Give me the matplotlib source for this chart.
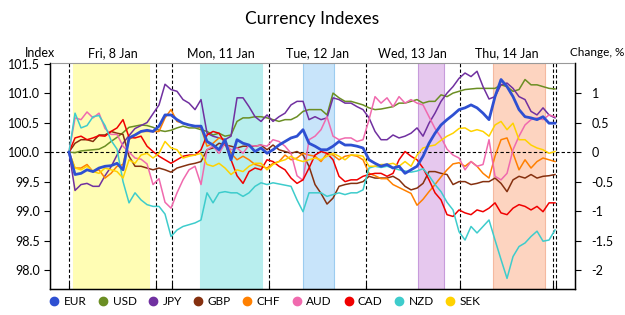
import numpy as np
import matplotlib
matplotlib.use("Agg")
import matplotlib.pyplot as plt
from matplotlib.lines import Line2D
import matplotlib.transforms as mtransforms

plt.rcParams['font.family'] = ['Lato', 'DejaVu Sans']

# index values, one sample per step along the time axis
eur = [100.00, 99.62, 99.64, 99.70, 99.67, 99.73, 99.76, 99.77, 99.81, 99.70, 100.24, 100.29, 100.35, 100.37, 100.35,
       100.44, 100.63, 100.63, 100.55, 100.49, 100.46, 100.44, 100.44, 100.18, 100.12, 100.04, 100.21, 99.87, 100.21, 100.15, 100.12, 100.01, 100.07,
       99.98, 100.04, 100.12, 100.18, 100.24, 100.27, 100.38, 100.15, 100.10, 100.04, 100.04, 100.10, 100.18, 100.12, 100.12, 100.10, 100.07,
       99.87, 99.81, 99.76, 99.79, 99.73, 99.76, 99.64, 99.70, 99.76, 99.93, 100.15, 100.32, 100.46, 100.55, 100.63, 100.72,
       100.75, 100.80, 100.75, 100.66, 100.55, 100.94, 101.23, 101.11, 100.94, 100.72, 100.60, 100.58, 100.55, 100.60, 100.49, 100.49]
usd = [100.00, 99.99, 100.02, 100.03, 100.04, 100.05, 100.10, 100.18, 100.25, 100.33, 100.42, 100.44, 100.46, 100.45, 100.42,
       100.37, 100.35, 100.37, 100.41, 100.44, 100.41, 100.41, 100.38, 100.35, 100.29, 100.32, 100.27, 100.29, 100.52, 100.58, 100.58, 100.60, 100.60,
       100.58, 100.55, 100.52, 100.55, 100.55, 100.60, 100.69, 100.72, 100.72, 100.72, 100.63, 101.00, 100.92, 100.86, 100.86, 100.83, 100.80,
       100.75, 100.72, 100.73, 100.75, 100.77, 100.83, 100.83, 100.86, 100.89, 100.83, 100.86, 100.86, 100.97, 100.94, 101.00, 101.03,
       101.06, 101.07, 101.08, 101.08, 101.08, 101.08, 101.14, 101.11, 101.03, 101.06, 101.23, 101.14, 101.14, 101.11, 101.08, 101.07]
jpy = [100.00, 99.35, 99.45, 99.47, 99.42, 99.42, 99.60, 99.75, 99.95, 100.15, 100.28, 100.40, 100.45, 100.50, 100.65,
       100.80, 101.15, 101.06, 101.03, 100.89, 100.83, 100.72, 100.89, 100.32, 100.27, 100.24, 100.21, 100.27, 100.92, 100.92, 100.77, 100.60, 100.52,
       100.63, 100.52, 100.60, 100.66, 100.80, 100.86, 100.86, 100.55, 100.60, 100.55, 100.58, 100.92, 100.89, 100.83, 100.83, 100.77, 100.72,
       100.58, 100.35, 100.21, 100.21, 100.29, 100.24, 100.27, 100.32, 100.41, 100.27, 100.49, 100.66, 100.86, 101.00, 101.11, 101.25,
       101.34, 101.28, 101.37, 101.11, 100.90, 100.94, 101.14, 101.17, 101.08, 100.94, 100.89, 100.69, 100.63, 100.75, 100.63, 100.58]
gbp = [100.00, 100.15, 100.21, 100.21, 100.18, 100.29, 100.29, 100.35, 100.32, 100.30, 99.93, 99.76, 99.76, 99.73, 99.70,
       99.73, 99.70, 99.66, 99.73, 99.76, 99.79, 99.81, 99.84, 100.04, 100.07, 100.15, 100.12, 100.10, 100.07, 100.10, 100.10, 100.10, 100.12,
       100.04, 100.12, 100.04, 100.01, 99.98, 100.01, 99.95, 99.76, 99.45, 99.30, 99.12, 99.22, 99.42, 99.45, 99.47, 99.47, 99.50,
       99.59, 99.56, 99.56, 99.56, 99.59, 99.53, 99.42, 99.36, 99.39, 99.47, 99.67, 99.67, 99.64, 99.62, 99.45, 99.50,
       99.50, 99.45, 99.47, 99.50, 99.50, 99.56, 99.47, 99.33, 99.53, 99.59, 99.56, 99.62, 99.56, 99.59, 99.60, 99.62]
chf = [100.00, 99.73, 99.73, 99.79, 99.67, 99.70, 99.56, 99.64, 99.76, 99.79, 100.21, 100.29, 100.35, 100.35, 100.35,
       100.35, 100.58, 100.72, 100.52, 100.49, 100.46, 100.44, 100.41, 100.10, 100.15, 100.24, 100.21, 99.98, 99.87, 99.93, 99.87, 99.79, 99.76,
       99.73, 99.81, 99.84, 99.95, 99.87, 99.90, 99.98, 99.95, 99.93, 99.84, 99.98, 99.95, 99.87, 99.93, 99.95, 99.93, 99.87,
       99.64, 99.60, 99.55, 99.55, 99.45, 99.40, 99.35, 99.30, 99.10, 99.20, 99.33, 99.45, 99.58, 99.70, 99.80, 99.82,
       99.76, 99.84, 99.76, 99.64, 99.56, 99.93, 100.21, 100.24, 99.98, 99.70, 99.87, 99.73, 99.84, 99.90, 99.87, 99.84]
aud = [100.00, 100.58, 100.55, 100.68, 100.58, 100.66, 100.40, 100.30, 100.30, 100.10, 100.00, 99.90, 99.88, 99.80, 99.45,
       99.55, 99.15, 99.05, 99.31, 99.53, 99.70, 99.76, 99.45, 100.04, 100.10, 99.98, 100.15, 100.04, 100.07, 99.98, 100.12, 100.10, 100.12,
       100.10, 100.21, 100.18, 100.10, 99.98, 99.60, 99.52, 100.21, 100.27, 100.38, 100.60, 100.27, 100.21, 100.24, 100.24, 100.18, 100.21,
       100.55, 100.94, 100.83, 100.92, 100.77, 100.94, 100.83, 100.89, 100.83, 100.80, 100.60, 100.40, 100.25, 100.05, 99.95, 99.90,
       99.70, 99.84, 99.76, 99.79, 100.21, 99.59, 99.53, 99.64, 100.04, 100.27, 100.46, 100.55, 100.58, 100.55, 100.63, 100.60]
cad = [100.00, 100.24, 100.27, 100.21, 100.24, 100.28, 100.27, 100.35, 100.41, 100.55, 100.25, 100.24, 100.27, 100.10, 100.01,
       99.93, 99.87, 99.81, 99.87, 99.93, 99.95, 99.95, 100.04, 100.29, 100.35, 100.32, 100.15, 99.87, 99.60, 99.47, 99.67, 99.73, 99.70,
       99.87, 99.84, 99.76, 99.70, 99.56, 99.47, 99.53, 99.73, 99.95, 100.01, 99.98, 99.87, 99.59, 99.50, 99.53, 99.53, 99.59,
       99.62, 99.64, 99.64, 99.59, 99.64, 99.87, 100.01, 99.93, 99.87, 99.73, 99.53, 99.31, 99.19, 98.94, 98.91, 99.02,
       98.97, 98.94, 99.02, 98.99, 99.05, 99.14, 98.97, 98.94, 99.05, 99.11, 99.08, 99.02, 99.08, 98.99, 99.14, 99.14]
nzd = [100.00, 100.66, 100.41, 100.45, 100.60, 100.62, 100.45, 100.20, 100.05, 99.50, 99.14, 99.31, 99.19, 99.11, 99.08,
       99.08, 98.95, 98.57, 98.68, 98.74, 98.77, 98.80, 98.85, 99.31, 99.14, 99.31, 99.33, 99.31, 99.31, 99.25, 99.31, 99.42, 99.48,
       99.45, 99.48, 99.46, 99.44, 99.42, 99.19, 98.99, 99.31, 99.31, 99.31, 99.25, 99.28, 99.31, 99.28, 99.31, 99.31, 99.36,
       99.73, 99.76, 99.74, 99.76, 99.73, 99.70, 99.68, 99.66, 99.68, 99.72, 99.60, 99.45, 99.33, 99.15, 99.02, 98.65,
       98.51, 98.74, 98.63, 98.74, 98.85, 98.51, 98.18, 97.86, 98.23, 98.40, 98.46, 98.57, 98.66, 98.49, 98.51, 98.68]
sek = [100.00, 99.73, 99.70, 99.76, 99.67, 99.64, 99.73, 99.70, 99.67, 99.56, 99.87, 99.81, 99.95, 99.98, 99.90,
       99.98, 100.18, 100.07, 100.04, 99.90, 99.93, 99.95, 99.98, 99.79, 99.76, 99.81, 99.73, 99.62, 99.70, 99.67, 99.76, 99.81, 99.81,
       99.70, 99.79, 99.84, 99.87, 99.93, 99.87, 99.84, 99.87, 99.90, 99.87, 99.93, 99.98, 99.93, 99.87, 99.95, 99.95, 99.93,
       99.76, 99.76, 99.79, 99.79, 99.81, 99.76, 99.84, 99.76, 99.95, 100.07, 100.10, 100.12, 100.20, 100.27, 100.32, 100.40,
       100.41, 100.35, 100.38, 100.35, 100.27, 100.46, 100.52, 100.38, 100.49, 100.21, 100.21, 100.12, 100.07, 100.04, 99.98, 100.01]

names = ['EUR', 'USD', 'JPY', 'GBP', 'CHF', 'AUD', 'CAD', 'NZD', 'SEK']
colors = ['#2E50D2', '#6B8E23', '#7030A0', '#85300F', '#FF8000', '#F06AAE', '#F00000', '#3ECCCC', '#FFD200']

# day boundaries and session bands, in sample steps
day_edges = [0, 14.5, 17.17, 33.33, 49.5, 65.17, 80.67, 81.17]
day_labels = ['Fri, 8 Jan', 'Mon, 11 Jan', 'Tue, 12 Jan', 'Wed, 13 Jan', 'Thu, 14 Jan']
day_label_pos = [7.25, 25.25, 41.4, 57.3, 72.9]
bands = [(0.67, 13.33), (21.83, 32.17), (39.0, 44.17), (58.17, 62.5), (70.67, 79.33)]
band_colors = ['#FFFDB4', '#B8EEEE', '#C8E4FA', '#E6C8EE', '#FDD4C0']
band_edges = ['#FFFDB4', '#B8EEEE', '#9CCCF0', '#C79BDB', '#F5B9A0']

series = [eur, usd, jpy, gbp, chf, aud, cad, nzd, sek]
x = np.arange(len(eur))

fig = plt.figure(figsize=(6.25, 3.15), dpi=100)
ax = fig.add_axes([0.08, 0.0825, 0.84, 0.7175])

for (a, b), fc, ec in zip(bands, band_colors, band_edges):
    ax.axvspan(a, b, facecolor=fc, edgecolor=ec, linewidth=0.8, zorder=0)
for d in day_edges:
    ax.axvline(d, color='black', linestyle=(0, (3, 2)), linewidth=0.8, zorder=1)
ax.axhline(100, color='black', linestyle=(0, (3, 2)), linewidth=0.8, zorder=1)

order = [1, 2, 3, 4, 5, 6, 7, 8, 0]
for k in order:
    lw = 2.0 if names[k] == 'EUR' else 1.1
    ax.plot(x, series[k], color=colors[k], linewidth=lw, zorder=3 if k == 0 else 2)

ax.set_xlim(-3.17, 84.33)
ax.set_ylim(97.68, 101.51)
ax.set_yticks(np.arange(98.0, 101.51, 0.5))
ax.set_yticklabels([f'{v:.1f}' for v in np.arange(98.0, 101.51, 0.5)])
ax.set_xticks(day_edges)
ax.set_xticklabels([])
ax.tick_params(axis='x', direction='in', length=4, width=0.8)
ax.tick_params(axis='y', direction='out', length=4, width=0.8, labelsize=9, pad=3)
ax.spines['top'].set_color('#999999')
for s in ['left', 'bottom', 'right']:
    ax.spines[s].set_linewidth(1.0)

ax2 = ax.twinx()
lo, hi = ax.get_ylim()
ax2.set_ylim(lo - 100, hi - 100)
rt = [1, 0.5, 0, -0.5, -1, -1.5, -2]
ax2.set_yticks(rt)
ax2.set_yticklabels([f'{v:g}' for v in rt])
ax2.tick_params(axis='y', direction='out', length=4, width=0.8, labelsize=9, pad=8)
ax2.spines['top'].set_visible(False)

trans = mtransforms.blended_transform_factory(ax.transData, fig.transFigure)
for lab, p in zip(day_labels, day_label_pos):
    ax.text(p, 0.832, lab, transform=trans, ha='center', va='center', fontsize=9)
fig.text(0.064, 0.832, 'Index', ha='center', va='center', fontsize=9)
fig.text(0.955, 0.832, 'Change, %', ha='center', va='center', fontsize=8.5)
fig.text(0.5, 0.94, 'Currency Indexes', ha='center', va='center', fontsize=12.5)

handles = [Line2D([], [], marker='o', linestyle='none', markersize=6,
                  markerfacecolor=c, markeredgecolor=c) for c in colors]
fig.legend(handles, names, loc='center left', bbox_to_anchor=(0.072, 0.043),
           ncol=9, frameon=False, fontsize=8.5, handletextpad=0.4,
           columnspacing=1.0, handlelength=0.8, borderaxespad=0)

fig.savefig('out.png', dpi=100)
